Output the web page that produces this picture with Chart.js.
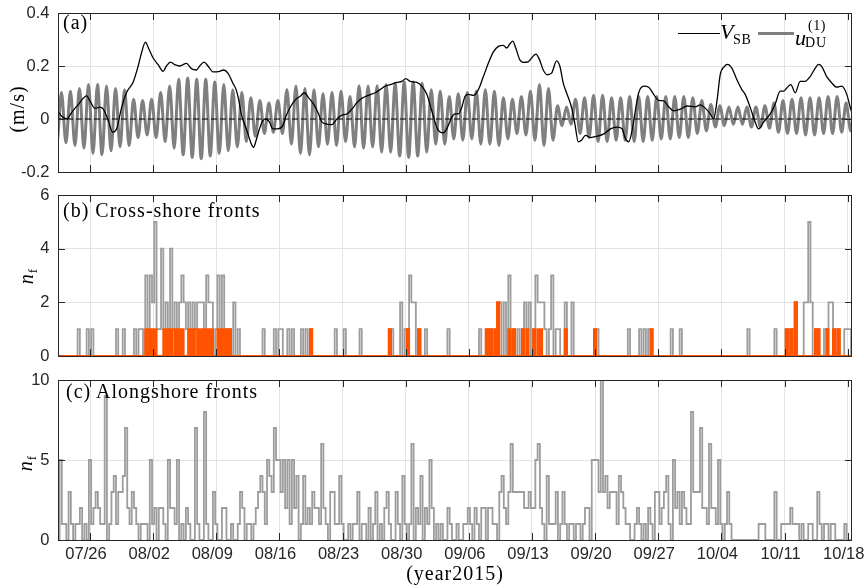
<!DOCTYPE html>
<html lang="en">
<head>
  <meta charset="UTF-8">
  <title>Sea-breeze velocity and front counts, 2015</title>
  <script src="https://cdn.jsdelivr.net/npm/chart.js"></script>
  <style>
    body { margin: 0; background: #fff; }
    #page { position: relative; width: 864px; height: 588px; overflow: hidden; }
    canvas { position: absolute; left: 0; }
    .tx { position: absolute; font-family: "Liberation Serif", "Times New Roman", serif; font-size: 20px; line-height: 20px; color: #000; white-space: nowrap; letter-spacing: 1px; }
    .rot { transform: translate(-50%, -50%) rotate(-90deg); }
    .it { font-style: italic; }
    .key { position: absolute; }
  </style>
</head>
<body>
<div id="page">
  <canvas id="chartA" width="864" height="182" style="top:0"></canvas>
  <canvas id="chartB" width="864" height="183" style="top:182px"></canvas>
  <canvas id="chartC" width="864" height="223" style="top:365px"></canvas>

  <div class="tx" style="left:63px; top:12px">(a)</div>
  <div class="tx rot" style="left:17px; top:109px">(m/s)</div>

  <div class="key" style="left:678px; top:33px; width:42px; height:1.3px; background:#000"></div>
  <div class="tx it" style="left:720px; top:21px; font-size:22px; line-height:22px; letter-spacing:0">V</div>
  <div class="tx" style="left:733px; top:33px; font-size:14px; line-height:14px; letter-spacing:0.8px">SB</div>
  <div class="key" style="left:758px; top:32px; width:36px; height:3px; background:#7f7f7f"></div>
  <div class="tx it" style="left:795px; top:27px; font-size:22px; line-height:22px; letter-spacing:0">u</div>
  <div class="tx" style="left:805px; top:36px; font-size:14px; line-height:14px; letter-spacing:0.8px">DU</div>
  <div class="tx" style="left:808px; top:19px; font-size:14px; line-height:14px; letter-spacing:0.5px">(1)</div>

  <div class="tx" style="left:63px; top:200px">(b) Cross-shore fronts</div>
  <div class="tx rot" style="left:27px; top:276px"><span class="it">n</span><span style="font-size:13px; position:relative; top:4px">f</span></div>

  <div class="tx" style="left:66px; top:381px">(c) Alongshore fronts</div>
  <div class="tx rot" style="left:26px; top:463px"><span class="it">n</span><span style="font-size:13px; position:relative; top:4px">f</span></div>

  <div class="tx" style="left:455px; top:563px; transform:translateX(-50%)">(year2015)</div>
</div>

<script>
  // time axis: days since 2015-07-26 00:00
  const xMin = -3.55, xMax = 84.48;
  const tickDays = [0, 7, 14, 21, 28, 35, 42, 49, 56, 63, 70, 77, 84];
  const tickLabels = ["07/26", "08/02", "08/09", "08/16", "08/23", "08/30", "09/06",
                      "09/13", "09/20", "09/27", "10/04", "10/11", "10/18"];

  // (a) sea-breeze velocity V_SB (m/s)
  const vsbDay = [-3.6, -3.13, -2.58, -2.03, -1.29, -0.37, 0, 0.55, 1.1, 1.47, 2.03, 2.5, 2.95, 3.5,
    4.05, 4.79, 5.34, 5.71, 6.15, 6.45, 7.0, 7.55, 8.1, 8.47, 8.92, 9.4, 9.95, 10.69, 11.24, 11.79,
    12.16, 12.64, 13.08, 13.63, 14.37, 14.81, 15.29, 15.84, 16.21, 16.51, 16.76, 17.13, 17.5, 17.87,
    18.13, 18.42, 18.79, 19.16, 19.53, 19.9, 20.27, 20.82, 21.37, 21.74, 22.29, 22.84, 23.31, 23.76,
    24.24, 24.79, 25.34, 25.71, 26.27, 26.82, 27.37, 27.93, 28.48, 29.03, 29.59, 30.14, 30.88, 31.62,
    32.17, 32.72, 33.28, 34.01, 34.57, 35.01, 35.49, 36.23, 36.78, 37.34, 37.89, 38.44, 38.81, 39.18,
    39.55, 40.1, 40.47, 40.84, 41.21, 41.58, 41.95, 42.5, 43.06, 43.61, 44.16, 44.72, 45.27, 45.82,
    46.19, 46.56, 46.86, 47.23, 47.67, 48.04, 48.59, 49.07, 49.44, 49.81, 50.25, 50.69, 51.17, 51.73,
    52.1, 52.46, 52.83, 53.39, 53.76, 54.13, 54.49, 54.93, 55.48, 56.22, 56.96, 57.7, 58.44, 58.99,
    59.36, 59.73, 60.1, 60.46, 60.83, 61.39, 61.94, 62.49, 63.05, 63.6, 64.15, 64.71, 65.45, 66.18,
    67.11, 67.66, 68.21, 68.77, 69.14, 69.51, 69.87, 70.32, 70.69, 71.17, 71.72, 72.27, 72.64, 73.2,
    73.75, 74.12, 74.67, 75.41, 75.96, 76.52, 76.89, 77.25, 77.7, 78.18, 78.73, 79.28, 79.84, 80.39,
    80.76, 81.13, 81.68, 82.24, 82.79, 83.34, 83.9, 84.34, 84.55];
  const vsbVal = [0.03, 0.01, 0.0, 0.025, 0.055, 0.087, 0.068, 0.04, 0.045, 0.037, -0.006, -0.05, -0.037, 0.043,
    0.10, 0.14, 0.20, 0.25, 0.29, 0.27, 0.23, 0.205, 0.18, 0.20, 0.215, 0.205, 0.20, 0.21, 0.19, 0.185,
    0.20, 0.215, 0.20, 0.178, 0.18, 0.185, 0.173, 0.135, 0.11, 0.068, 0.02, -0.02, -0.055, -0.093,
    -0.107, -0.08, -0.037, -0.006, 0.0, -0.012, -0.037, -0.037, -0.025, 0.012, 0.05, 0.075, 0.086, 0.099,
    0.08, 0.056, 0.019, -0.012, -0.019, -0.021, 0.0, 0.015, 0.019, 0.037, 0.062, 0.078, 0.089, 0.099,
    0.111, 0.124, 0.13, 0.138, 0.142, 0.152, 0.142, 0.138, 0.124, 0.093, 0.031, -0.031, -0.049, -0.052,
    -0.037, 0.006, 0.019, 0.019, 0.043, 0.086, 0.093, 0.089, 0.111, 0.16, 0.21, 0.253, 0.274, 0.278,
    0.268, 0.284, 0.294, 0.265, 0.222, 0.214, 0.216, 0.235, 0.245, 0.226, 0.185, 0.167, 0.173, 0.219,
    0.198, 0.136, 0.099, 0.043, -0.019, -0.086, -0.08, -0.062, -0.07, -0.065, -0.056, -0.037, -0.031, -0.037,
    -0.074, -0.086, -0.043, 0.031, 0.099, 0.124, 0.12, 0.093, 0.07, 0.068, 0.046, 0.031, 0.037, 0.049,
    0.046, 0.053, 0.041, 0.019, 0.0, 0.068, 0.167, 0.198, 0.206, 0.191, 0.148, 0.111, 0.093, 0.043,
    -0.012, -0.037, -0.012, 0.019, 0.056, 0.105, 0.105, 0.117, 0.13, 0.099, 0.142, 0.142, 0.16, 0.191,
    0.206, 0.198, 0.16, 0.136, 0.12, 0.124, 0.093, 0.037, 0.02];

  // (a) diurnal current u_DU: one daily maximum and minimum, first day 07/22
  const duFirstDay = -4;
  const duPeakPhase = -0.17;
  const uPeak = [0.10, 0.10, 0.105, 0.115, 0.13, 0.13, 0.125, 0.115, 0.11, 0.075,
    0.07, 0.075, 0.10, 0.125, 0.15, 0.155, 0.15, 0.15, 0.14, 0.13,
    0.11, 0.10, 0.08, 0.07, 0.06, 0.07, 0.11, 0.125, 0.115, 0.11,
    0.095, 0.10, 0.105, 0.085, 0.125, 0.125, 0.125, 0.13, 0.135, 0.14,
    0.14, 0.135, 0.11, 0.105, 0.085, 0.095, 0.10, 0.105, 0.11, 0.105,
    0.08, 0.075, 0.085, 0.105, 0.13, 0.115, 0.05, 0.045, 0.075, 0.08,
    0.09, 0.09, 0.08, 0.08, 0.085, 0.085, 0.085, 0.085, 0.085, 0.085,
    0.085, 0.08, 0.07, 0.055, 0.05, 0.045, 0.045, 0.045, 0.045, 0.05,
    0.06, 0.07, 0.075, 0.08, 0.08, 0.08, 0.085, 0.085, 0.06, 0.06];
  const uTrough = [-0.09, -0.09, -0.10, -0.11, -0.13, -0.135, -0.12, -0.105, -0.10, -0.07,
    -0.06, -0.07, -0.085, -0.11, -0.135, -0.145, -0.15, -0.14, -0.13, -0.12,
    -0.105, -0.085, -0.065, -0.055, -0.05, -0.055, -0.095, -0.13, -0.135, -0.105,
    -0.095, -0.10, -0.085, -0.105, -0.11, -0.105, -0.125, -0.125, -0.14, -0.145,
    -0.14, -0.125, -0.095, -0.095, -0.075, -0.08, -0.075, -0.095, -0.095, -0.10,
    -0.075, -0.055, -0.06, -0.08, -0.10, -0.08, -0.025, -0.02, -0.055, -0.07,
    -0.085, -0.085, -0.08, -0.08, -0.085, -0.085, -0.08, -0.075, -0.075, -0.07,
    -0.07, -0.055, -0.045, -0.03, -0.025, -0.02, -0.02, -0.03, -0.03, -0.035,
    -0.05, -0.055, -0.055, -0.06, -0.06, -0.055, -0.055, -0.05, -0.045, -0.045];

  // (b), (c) front counts in 6-hour bins from 07/22 00:00, one week per row
  const binStart = -4, binStep = 0.25;
  const crossTotal = [
    0,0,0,0, 0,0,0,0, 0,0,0,1, 0,0,0,1,
    0,1,0,0, 0,0,0,0, 0,0,0,0, 1,0,0,1, 0,0,0,0, 1,0,1,1, 0,3,1,3,
    2,5,1,1, 4,1,2,1, 4,1,2,1, 2,3,2,1, 2,1,2,1, 2,2,2,1, 3,2,2,0,
    1,3,1,3, 1,1,1,0, 2,0,1,0, 0,0,0,0, 0,0,0,0, 0,1,0,0, 0,0,1,0,
    1,1,0,0, 1,0,1,0, 0,0,1,0, 1,0,1,0, 0,0,0,0, 0,0,0,0, 0,1,0,0,
    0,1,0,0, 0,0,0,0, 1,0,0,0, 0,0,0,0, 0,0,0,0, 0,1,1,0, 0,0,2,0,
    1,1,3,2, 2,0,1,0, 0,1,0,0, 0,0,0,0, 0,0,0,1, 0,0,0,0, 0,0,0,0,
    0,0,0,0, 0,1,0,0, 1,1,1,0, 1,2,2,0, 2,0,3,0, 1,0,1,0, 1,2,1,2,
    0,1,3,2, 2,2,1,0, 1,3,0,1, 1,0,0,2, 0,0,2,0, 0,0,0,0, 0,0,0,0,
    1,1,0,0, 0,0,0,0, 0,0,0,0, 0,0,0,1, 0,0,0,0, 1,0,1,0, 1,1,0,0,
    0,0,0,0, 0,0,1,0, 0,0,1,0, 0,0,0,0, 0,0,0,0, 0,0,0,0, 0,0,0,0,
    0,0,0,0, 0,0,0,0, 0,0,0,0, 1,0,0,0, 0,0,0,0, 0,0,0,0, 1,0,0,0,
    0,1,0,1, 0,2,0,0, 0,2,2,5, 2,0,1,1, 0,0,1,1, 2,2,1,0, 1,0,0,1,
    1,1,0,0];
  const crossStrong = [
    0,0,0,0, 0,0,0,0, 0,0,0,0, 0,0,0,0,
    0,0,0,0, 0,0,0,0, 0,0,0,0, 0,0,0,0, 0,0,0,0, 0,0,0,0, 0,1,1,1,
    1,1,0,0, 0,1,1,1, 1,0,1,1, 1,1,0,0, 1,1,1,0, 1,1,1,1, 1,1,1,0,
    0,1,1,1, 1,1,1,0, 0,0,0,0, 0,0,0,0, 0,0,0,0, 0,0,0,0, 0,0,0,0,
    0,0,0,0, 0,0,0,0, 0,0,0,0, 0,0,1,0, 0,0,0,0, 0,0,0,0, 0,0,0,0,
    0,0,0,0, 0,0,0,0, 0,0,0,0, 0,0,0,0, 0,0,0,0, 0,1,0,0, 0,0,0,0,
    0,1,0,0, 0,0,1,0, 0,0,0,0, 0,0,0,0, 0,0,0,0, 0,0,0,0, 0,0,0,0,
    0,0,0,0, 0,0,0,0, 1,1,1,0, 1,2,0,0, 0,0,1,0, 1,0,0,0, 1,0,1,0,
    0,1,0,1, 1,0,0,0, 0,0,0,0, 0,0,0,1, 0,0,0,0, 0,0,0,0, 0,0,0,0,
    1,0,0,0, 0,0,0,0, 0,0,0,0, 0,0,0,0, 0,0,0,0, 0,0,0,0, 0,1,0,0,
    0,0,0,0, 0,0,0,0, 0,0,0,0, 0,0,0,0, 0,0,0,0, 0,0,0,0, 0,0,0,0,
    0,0,0,0, 0,0,0,0, 0,0,0,0, 0,0,0,0, 0,0,0,0, 0,0,0,0, 0,0,0,0,
    0,1,0,1, 0,2,0,0, 0,0,0,0, 0,0,1,1, 0,0,0,1, 0,0,1,0, 1,0,0,0,
    0,0,0,0];
  const alongTotal = [
    0,0,0,5, 1,1,0,3, 1,0,1,1, 2,0,1,0,
    5,1,2,3, 2,1,1,9, 0,1,3,4, 1,3,3,4, 7,2,1,3, 2,1,0,1, 1,1,0,5,
    1,2,0,2, 2,1,0,5, 2,2,1,5, 0,1,0,2, 1,0,0,7, 1,0,0,8, 1,0,0,3,
    1,0,0,2, 2,0,0,1, 0,0,1,3, 2,0,1,1, 0,1,2,3, 4,3,1,5, 4,3,7,5,
    5,3,5,2, 5,1,5,2, 4,0,1,4, 1,2,1,3, 2,2,1,6, 2,1,0,3, 3,1,1,4,
    1,0,0,1, 0,1,1,3, 0,1,1,0, 2,0,1,3, 0,1,0,2, 3,1,0,0, 3,1,0,4,
    1,0,1,6, 0,2,1,4, 0,2,1,5, 2,0,1,0, 1,0,0,2, 1,0,0,1, 0,0,1,1,
    2,1,0,2, 1,0,2,2, 0,2,2,1, 1,0,3,4, 2,1,3,6, 3,3,3,3, 3,2,2,3,
    2,2,5,6, 2,1,0,4, 1,1,1,3, 0,1,3,1, 0,1,1,0, 1,1,0,1, 2,2,0,5,
    5,5,3,10, 3,4,2,3, 3,3,1,4, 3,2,1,1, 0,0,1,2, 1,0,1,0, 2,1,0,3,
    3,1,2,3, 4,1,0,5, 2,3,1,3, 2,1,1,8, 3,3,3,7, 2,2,1,6, 2,2,1,5,
    1,0,1,3, 1,0,0,0, 0,0,0,0, 0,0,0,0, 0,1,1,1, 0,0,0,0, 3,0,0,1,
    1,1,1,2, 1,1,1,0, 1,0,0,1, 1,0,0,3, 1,0,1,1, 0,1,1,0, 0,0,0,1,
    0,0,0,0];

  const tickFont = { family: "'Liberation Sans', Arial, sans-serif", size: 16.5 };
  const axisColor = "#262626";
  const gridColor = "#e3e3e3";
  const grey = "#9d9d9d";
  const orange = "#ff5300";

  // box round the plot area with inward tick marks on all four sides
  const frame = {
    id: "frame",
    afterDraw(chart) {
      const { ctx, chartArea: a, scales: { x, y } } = chart;
      const len = 7;
      ctx.save();
      ctx.strokeStyle = axisColor;
      ctx.lineWidth = 1;
      ctx.beginPath();
      x.ticks.forEach(t => {
        const px = Math.round(x.getPixelForValue(t.value)) + 0.5;
        ctx.moveTo(px, a.top); ctx.lineTo(px, a.top + len);
        ctx.moveTo(px, a.bottom); ctx.lineTo(px, a.bottom - len);
      });
      y.ticks.forEach(t => {
        const py = Math.round(y.getPixelForValue(t.value)) + 0.5;
        ctx.moveTo(a.left, py); ctx.lineTo(a.left + len, py);
        ctx.moveTo(a.right, py); ctx.lineTo(a.right - len, py);
      });
      ctx.stroke();
      ctx.strokeRect(a.left + 0.5, a.top + 0.5, a.right - a.left - 1, a.bottom - a.top);
      ctx.restore();
    }
  };

  function xAxis(withLabels) {
    return {
      type: "linear", min: xMin, max: xMax,
      afterBuildTicks: s => { s.ticks = tickDays.map(v => ({ value: v })); },
      afterFit: s => { s.height = withLabels ? 48 : 0; s.paddingLeft = 0; s.paddingRight = 0; },
      grid: { color: gridColor, drawTicks: false },
      border: { display: false },
      ticks: {
        display: withLabels, autoSkip: false, maxRotation: 0, padding: 5, labelOffset: -4,
        color: axisColor, font: tickFont,
        callback: (v, i) => tickLabels[i]
      }
    };
  }

  function yAxis(min, max, ticks, labels) {
    return {
      min, max,
      afterBuildTicks: s => { s.ticks = ticks.map(v => ({ value: v })); },
      afterFit: s => { s.width = 58; s.paddingTop = 0; s.paddingBottom = 0; },
      grid: { color: gridColor, drawTicks: false },
      border: { display: false },
      ticks: { padding: 8.5, color: axisColor, font: tickFont, callback: (v, i) => labels[i] }
    };
  }

  function makeChart(id, padding, datasets, y, withLabels) {
    return new Chart(document.getElementById(id), {
      type: "line",
      data: { datasets },
      options: {
        responsive: false,
        animation: false,
        events: [],
        layout: { padding },
        plugins: { legend: { display: false }, tooltip: { enabled: false } },
        elements: { point: { radius: 0 } },
        scales: { x: xAxis(withLabels), y }
      },
      plugins: [frame]
    });
  }

  const vsbPoints = vsbDay.map((d, i) => ({ x: d, y: vsbVal[i] }));
  const duPoints = [];
  uPeak.forEach((v, i) => {
    duPoints.push({ x: duFirstDay + i + duPeakPhase, y: v });
    duPoints.push({ x: duFirstDay + i + duPeakPhase + 0.5, y: uTrough[i] });
  });
  const binned = arr => arr.map((v, i) => ({ x: binStart + i * binStep, y: v }));

  makeChart("chartA", { top: 13, right: 12, bottom: 10, left: 0 }, [
    { label: "V_SB", data: vsbPoints, borderColor: "#000", borderWidth: 1.3, cubicInterpolationMode: "monotone" },
    { label: "zero", data: [{ x: xMin, y: 0 }, { x: xMax, y: 0 }], borderColor: "#000", borderWidth: 1, borderDash: [6, 3] },
    { label: "u_DU", data: duPoints, borderColor: "#7f7f7f", borderWidth: 3, cubicInterpolationMode: "monotone" }
  ], yAxis(-0.2, 0.4, [-0.2, 0, 0.2, 0.4], ["-0.2", "0", "0.2", "0.4"]), false);

  makeChart("chartB", { top: 13, right: 12, bottom: 9, left: 0 }, [
    { label: "strong", data: binned(crossStrong), stepped: "middle", fill: "origin",
      borderColor: orange, backgroundColor: orange, borderWidth: 2 },
    { label: "all", data: binned(crossTotal), stepped: "middle", borderColor: grey, borderWidth: 1.8 }
  ], yAxis(0, 6, [0, 2, 4, 6], ["0", "2", "4", "6"]), false);

  makeChart("chartC", { top: 15, right: 12, bottom: 0, left: 0 }, [
    { label: "all", data: binned(alongTotal), stepped: "middle", borderColor: grey, borderWidth: 1.8 }
  ], yAxis(0, 10, [0, 5, 10], ["0", "5", "10"]), true);
</script>
</body>
</html>
